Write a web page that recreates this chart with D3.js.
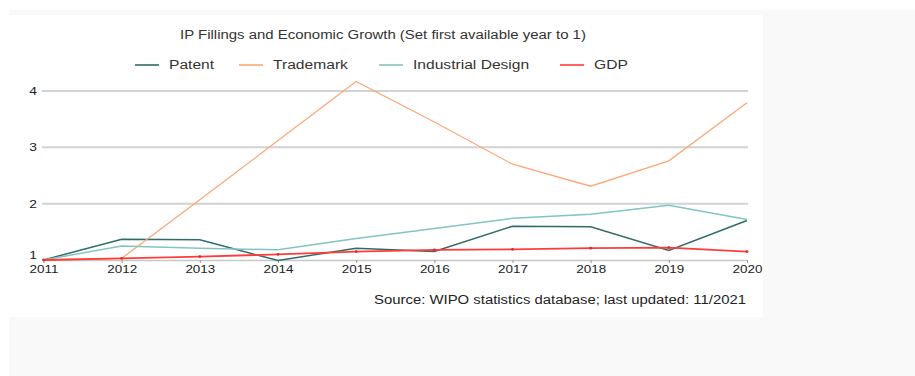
<!DOCTYPE html>
<html>
<head>
<meta charset="utf-8">
<script src="https://cdn.jsdelivr.net/npm/d3@7"></script>
<style>
  html, body { margin: 0; padding: 0; background: #ffffff; }
  svg { display: block; }
  text { font-family: "Liberation Sans", Arial, sans-serif; }
</style>
</head>
<body>
<svg id="chart" width="915" height="376"></svg>
<script>
// Index values, first available year = 1
const years = [2011, 2012, 2013, 2014, 2015, 2016, 2017, 2018, 2019, 2020];
const patent = [1.00, 1.37, 1.36, 0.99, 1.21, 1.15, 1.60, 1.59, 1.17, 1.70];
const trademark = [1.00, 1.03, 2.07, 3.12, 4.17, 3.45, 2.70, 2.31, 2.76, 3.79];
const industrialDesign = [1.00, 1.25, 1.21, 1.18, 1.38, 1.56, 1.74, 1.81, 1.97, 1.72];
const gdp = [1.00, 1.03, 1.06, 1.10, 1.15, 1.18, 1.19, 1.21, 1.22, 1.15];
const yTicks = [1, 2, 3, 4];

const seriesNames = ["Patent", "Trademark", "Industrial Design", "GDP"];
const seriesValues = [patent, trademark, industrialDesign, gdp];
const seriesColors = ["#2f6b69", "#fca877", "#82c4c1", "#ff3c3c"];
const seriesWidths = [1.5, 1.3, 1.5, 1.8];

const titleText = "IP Fillings and Economic Growth (Set first available year to 1)";
const sourceText = "Source: WIPO statistics database; last updated: 11/2021";

// the typeface renders wider than the metric font
function stretch(factor) {
  return sel => sel.each(function () {
    const w = this.getComputedTextLength();
    this.setAttribute("textLength", (w * factor).toFixed(1));
    this.setAttribute("lengthAdjust", "spacingAndGlyphs");
  });
}

const svg = d3.select("#chart");

// page backdrop and card
svg.append("rect").attr("x", 9).attr("y", 10).attr("width", 906).attr("height", 366).attr("fill", "#f9f9f9");
svg.append("rect").attr("x", 9).attr("y", 15).attr("width", 754).attr("height", 302).attr("fill", "#ffffff");

const x = d3.scaleLinear().domain([2011, 2020]).range([43.5, 747]);
const y = d3.scaleLinear().domain([1, 4]).range([260, 91]);

// horizontal gridlines
svg.append("g")
  .selectAll("line")
  .data(yTicks.filter(t => t > 1))
  .join("line")
  .attr("x1", 42).attr("x2", 748)
  .attr("y1", d => y(d)).attr("y2", d => y(d))
  .attr("stroke", "#d2d2d2").attr("stroke-width", 2);

// y tick labels
svg.append("g")
  .selectAll("text")
  .data(yTicks)
  .join("text")
  .attr("x", 33)
  .attr("y", d => y(d))
  .attr("dy", d => d === 1 ? "-0.05em" : "0.35em")
  .attr("text-anchor", "middle")
  .attr("font-size", 11)
  .attr("fill", "#222")
  .text(d => d)
  .call(stretch(1.25));

// bottom axis
const xAxis = d3.axisBottom(x)
  .tickValues(years)
  .tickFormat(d3.format("d"))
  .tickSizeInner(3)
  .tickSizeOuter(0)
  .tickPadding(2);
const gx = svg.append("g").attr("transform", `translate(0,${y(1)})`).call(xAxis);
gx.select(".domain").attr("stroke", "#c8c8c8").attr("stroke-width", 1.5);
gx.selectAll(".tick line").attr("stroke", "#999");
gx.selectAll(".tick text")
  .attr("font-size", 11)
  .attr("font-family", "'Liberation Sans', Arial, sans-serif")
  .attr("fill", "#222")
  .call(stretch(1.22));

// series lines
const line = d3.line().x((d, i) => x(years[i])).y(d => y(d));
seriesValues.forEach((vals, k) => {
  svg.append("path")
    .datum(vals)
    .attr("fill", "none")
    .attr("stroke", seriesColors[k])
    .attr("stroke-width", seriesWidths[k])
    .attr("stroke-linejoin", "miter")
    .attr("d", line);
});

// small markers on GDP
svg.append("g")
  .selectAll("circle")
  .data(gdp)
  .join("circle")
  .attr("cx", (d, i) => x(years[i]))
  .attr("cy", d => y(d))
  .attr("r", 1.4)
  .attr("fill", "#e02828");

// title
svg.append("text")
  .attr("x", 383).attr("y", 35).attr("dy", "0.35em")
  .attr("text-anchor", "middle")
  .attr("font-size", 12)
  .attr("fill", "#333")
  .text(titleText)
  .call(stretch(1.245));

// legend
const legendX = [135, 239, 379, 560];
const legend = svg.append("g").selectAll("g")
  .data(seriesNames)
  .join("g")
  .attr("transform", (d, i) => `translate(${legendX[i]},65)`);
legend.append("line")
  .attr("x1", 0).attr("x2", 24)
  .attr("stroke", (d, i) => seriesColors[i])
  .attr("stroke-opacity", 0.8)
  .attr("stroke-width", 2);
legend.append("text")
  .attr("x", 34).attr("dy", "0.35em")
  .attr("font-size", 12)
  .attr("fill", "#333")
  .text(d => d)
  .call(stretch(1.3));

// source note
svg.append("text")
  .attr("x", 746).attr("y", 300).attr("dy", "0.35em")
  .attr("text-anchor", "end")
  .attr("font-size", 12)
  .attr("fill", "#222")
  .text(sourceText)
  .call(stretch(1.24));
</script>
</body>
</html>
